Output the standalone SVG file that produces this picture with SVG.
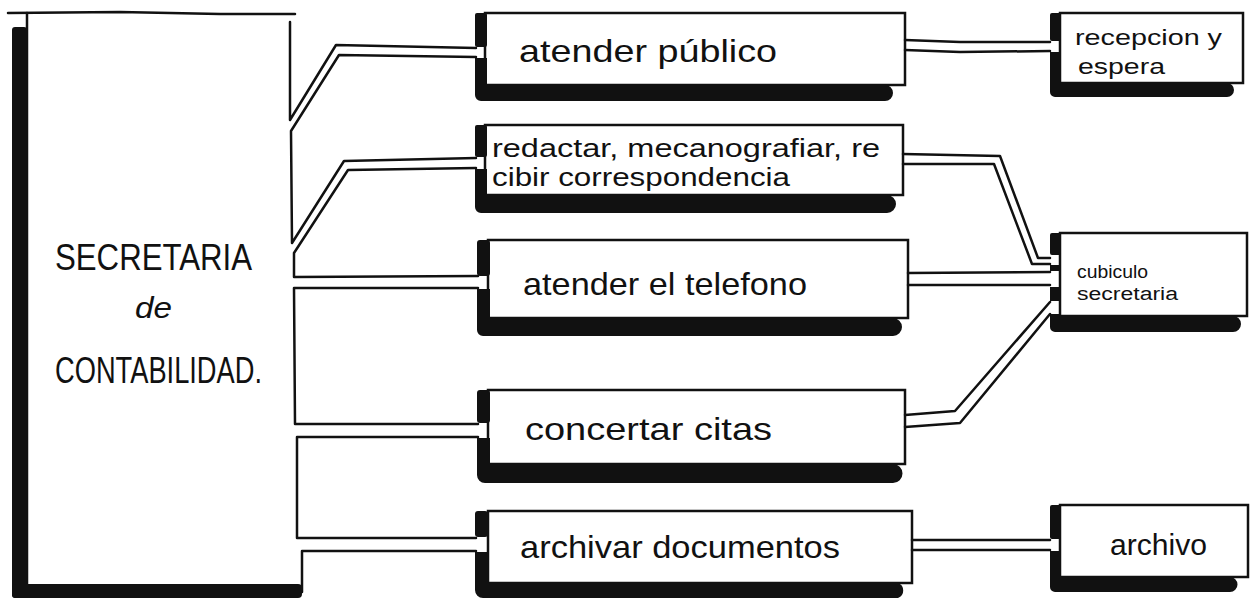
<svg xmlns="http://www.w3.org/2000/svg" width="1252" height="603" viewBox="0 0 1252 603">
<style>
.sh{fill:#111}
.bx{fill:#fff;stroke:#111;stroke-width:2.5}
.cn{fill:none;stroke:#111;stroke-width:2.5;stroke-linejoin:round;stroke-linecap:round}
.t{font-family:"Liberation Sans","DejaVu Sans",sans-serif;fill:#111}
</style>
<rect width="1252" height="603" fill="#fff"/>
<g id="main">
<path class="cn" d="M8,13 L120,12 L220,14 L295,14"/>
<line class="cn" x1="27" y1="13" x2="27" y2="585"/>
<rect class="sh" x="12" y="27" width="15" height="571" rx="3"/>
<rect class="sh" x="12" y="584" width="290" height="14" rx="4"/>
<text class="t" x="55" y="270" font-size="36" textLength="197" lengthAdjust="spacingAndGlyphs">SECRETARIA</text>
<text class="t" x="135" y="318" font-size="30" font-style="italic" textLength="37" lengthAdjust="spacingAndGlyphs">de</text>
<text class="t" x="55" y="383" font-size="36" textLength="207" lengthAdjust="spacingAndGlyphs">CONTABILIDAD.</text>
</g>
<g id="b1">
<rect class="bx" x="485" y="13" width="420" height="72"/>
<rect class="sh" x="475" y="13" width="12" height="34" rx="2"/>
<path class="sh" d="M475,58 h12 v27 h398 a8,8 0 0 1 0,16 H481 a6,6 0 0 1 -6,-6 Z"/>
<text class="t" x="519" y="62" font-size="32" textLength="258" lengthAdjust="spacingAndGlyphs">atender público</text>
</g>
<g id="b2">
<rect class="bx" x="485" y="125" width="418" height="70"/>
<rect class="sh" x="475" y="125" width="12" height="32" rx="2"/>
<path class="sh" d="M475,169 h12 v26 h400 a9,9 0 0 1 0,18 H481 a6,6 0 0 1 -6,-6 Z"/>
<text class="t" x="492" y="157" font-size="26" textLength="388" lengthAdjust="spacingAndGlyphs">redactar, mecanografiar, re</text>
<text class="t" x="492" y="186" font-size="26" textLength="298" lengthAdjust="spacingAndGlyphs">cibir correspondencia</text>
</g>
<g id="b3">
<rect class="bx" x="488" y="240" width="420" height="78"/>
<rect class="sh" x="477" y="240" width="13" height="36" rx="3"/>
<path class="sh" d="M477,289 h13 v29 h403 a9,9 0 0 1 0,18 H483 a6,6 0 0 1 -6,-6 Z"/>
<text class="t" x="523" y="295" font-size="32" textLength="284" lengthAdjust="spacingAndGlyphs">atender el telefono</text>
</g>
<g id="b4">
<rect class="bx" x="488" y="390" width="417" height="74"/>
<rect class="sh" x="477" y="390" width="13" height="33" rx="3"/>
<path class="sh" d="M477,438 h13 v26 h403 a9,9 0 0 1 0,19 H485 a8,8 0 0 1 -8,-8 Z"/>
<text class="t" x="525" y="440" font-size="32" textLength="247" lengthAdjust="spacingAndGlyphs">concertar citas</text>
</g>
<g id="b5">
<rect class="bx" x="488" y="511" width="424" height="72"/>
<rect class="sh" x="475" y="511" width="13" height="26" rx="3"/>
<path class="sh" d="M475,552 h13 v31 h410 a8,8 0 0 1 0,15 H483 a8,8 0 0 1 -8,-8 Z"/>
<text class="t" x="520" y="558" font-size="32" textLength="320" lengthAdjust="spacingAndGlyphs">archivar documentos</text>
</g>
<g id="r1">
<rect class="bx" x="1060" y="13" width="183" height="70"/>
<rect class="sh" x="1050" y="13" width="11" height="28" rx="2"/>
<path class="sh" d="M1050,52 h11 v31 h166 a7,7 0 0 1 0,14 H1055 a5,5 0 0 1 -5,-5 Z"/>
<text class="t" x="1075" y="45" font-size="22" textLength="147" lengthAdjust="spacingAndGlyphs">recepcion y</text>
<text class="t" x="1078" y="74" font-size="22" textLength="87" lengthAdjust="spacingAndGlyphs">espera</text>
</g>
<g id="r2">
<rect class="bx" x="1060" y="233" width="187" height="83"/>
<rect class="sh" x="1050" y="233" width="11" height="22" rx="2"/>
<rect class="sh" x="1050" y="265" width="11" height="6"/>
<rect class="sh" x="1050" y="287" width="11" height="14"/>
<path class="sh" d="M1050,314 h11 v2 h172 a8,8 0 0 1 0,16 H1055 a5,5 0 0 1 -5,-5 Z"/>
<text class="t" x="1077" y="278" font-size="18" textLength="71" lengthAdjust="spacingAndGlyphs">cubiculo</text>
<text class="t" x="1077" y="300" font-size="18" textLength="101" lengthAdjust="spacingAndGlyphs">secretaria</text>
</g>
<g id="r3">
<rect class="bx" x="1060" y="505" width="188" height="72"/>
<rect class="sh" x="1050" y="505" width="11" height="34" rx="2"/>
<path class="sh" d="M1050,551 h11 v26 h169 a7,7 0 0 1 0,15 H1055 a5,5 0 0 1 -5,-5 Z"/>
<text class="t" x="1110" y="555" font-size="30" textLength="97" lengthAdjust="spacingAndGlyphs">archivo</text>
</g>
<g id="connectors">
<path class="cn" d="M290,22 L290,120 L336,45 L476,48"/>
<path class="cn" d="M476,57 L339,55 L291,131 L292,243 L344,161 L476,158"/>
<path class="cn" d="M476,168 L348,170 L294,253 L294,277 L478,276"/>
<path class="cn" d="M478,288 L294,288 L295,424 L478,424"/>
<path class="cn" d="M478,437 L297,437 L297,538 L476,538"/>
<path class="cn" d="M476,551 L302,551 L302,592"/>
<path class="cn" d="M905,40 L960,42 L1050,42"/>
<path class="cn" d="M905,50 L960,52 L1050,51"/>
<path class="cn" d="M903,154 L1000,156 L1038,258 L1050,258"/>
<path class="cn" d="M903,164 L994,164 L1032,264 L1050,264"/>
<path class="cn" d="M908,273 L1050,272"/>
<path class="cn" d="M908,285 L1050,285"/>
<path class="cn" d="M905,415 L955,411 L1050,302"/>
<path class="cn" d="M905,427 L960,423 L1050,314"/>
<path class="cn" d="M912,540 L1050,540"/>
<path class="cn" d="M912,550 L1050,550"/>
</g>
</svg>
